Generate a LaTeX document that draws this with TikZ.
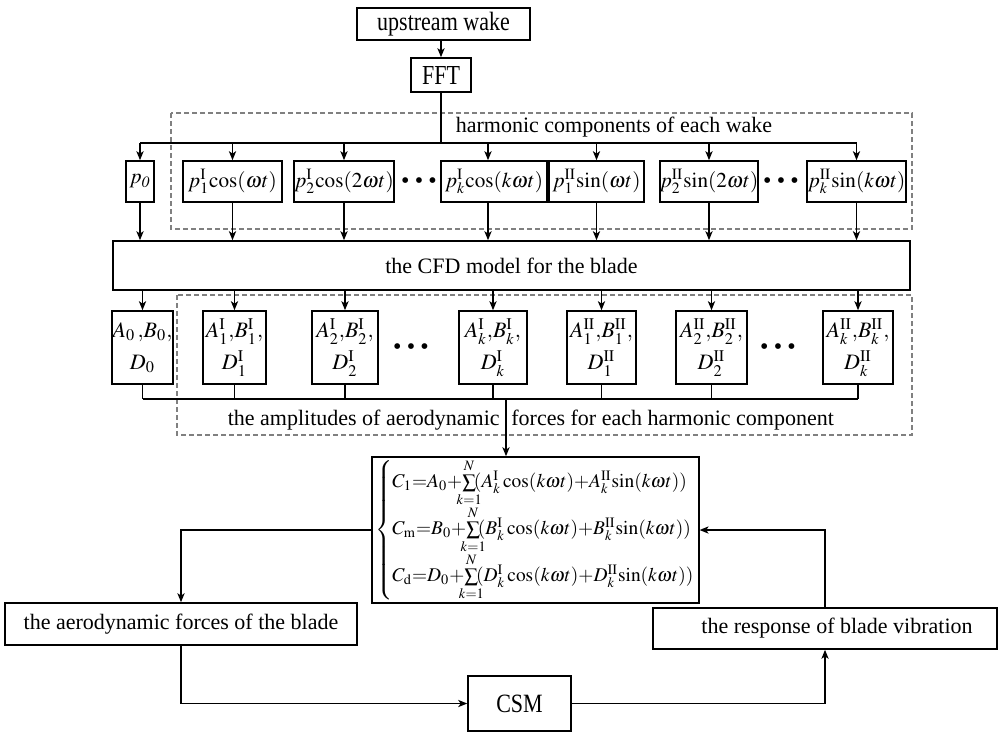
\documentclass[tikz,border=0pt]{standalone}
\usepackage{mathptmx}
\usepackage{mathtools}
\usepackage[no-math]{fontspec}
\setmainfont{Liberation Serif}
\usepackage{graphicx}
\usetikzlibrary{arrows.meta,calc}
\definecolor{dashgray}{RGB}{128,128,128}
\newcommand{\mysum}{\!\sum\limits_{\mathclap{k=1}}^{N}\!}
\newcommand{\threedots}{\textbullet\hspace{2.6pt}\textbullet\hspace{2.6pt}\textbullet}
\begin{document}
\begin{tikzpicture}[x=0.5pt,y=-0.5pt,
  box/.style={draw, line width=0.8pt, inner sep=0pt, align=center, font=\fontsize{11}{13}\selectfont},
  rowone/.style={box, font=\fontsize{10.6}{13}\selectfont, minimum height=20.5pt},
  twoline/.style={box, font=\fontsize{11}{16}\selectfont},
  dashbox/.style={draw=dashgray, dash pattern=on 2.5pt off 1.5pt, line width=0.8pt},
  arr/.style={-{Stealth[length=4.5pt,width=3.6pt,inset=1.2pt]}, line width=0.7pt},
  ln/.style={line width=0.7pt},
  lbl/.style={font=\fontsize{11}{13}\selectfont, inner sep=0pt},
  dotsnode/.style={font=\fontsize{12}{13}\selectfont, inner sep=0pt}]
\useasboundingbox (0,0) rectangle (1004,736);

% dashed groups
\draw[dashbox] (171,113) rectangle (912,229);
\draw[dashbox] (177,295) rectangle (912,435);

% top
\node[box, minimum width=86.5pt, minimum height=16pt] (up) at (443.5,24) {\scalebox{1}[1.2]{upstream wake}};
\node[box, minimum width=30pt, minimum height=17pt] (fft) at (441,75) {\scalebox{1}[1.25]{FFT}};
\node[lbl] (hlab) at (614,127) {harmonic components of each wake};

% row 1
\node[rowone, minimum width=14pt] (p0) at (140,181.5) {$p_{\mathit{0}}$};
\node[rowone, minimum width=49.5pt] (c1) at (232.5,181.5) {$p_1^{\mathrm{I}}\mathrm{cos}(\omega t)$};
\node[rowone, minimum width=50pt] (c2) at (344,181.5) {$p_2^{\mathrm{I}}\mathrm{cos}(2\omega t)$};
\node[dotsnode] (d1) at (419,183) {\threedots};
\node[rowone, minimum width=53pt] (ck) at (494,181.5) {$p_k^{\mathrm{I}}\mathrm{cos}(k\omega t)$};
\node[rowone, minimum width=47.5pt] (s1) at (596.5,181.5) {$p_1^{\mathrm{II}}\mathrm{sin}(\omega t)$};
\node[rowone, minimum width=48pt] (s2) at (709,181.5) {$p_2^{\mathrm{II}}\mathrm{sin}(2\omega t)$};
\node[dotsnode] (d2) at (781,183) {\threedots};
\node[rowone, minimum width=49.5pt] (sk) at (856.5,181.5) {$p_k^{\mathrm{II}}\mathrm{sin}(k\omega t)$};

% CFD
\node[box, minimum width=398.5pt, minimum height=24.5pt] (cfd) at (511.5,265.5) {the CFD model for the blade};

% row 2
\node[twoline, minimum width=30.5pt, minimum height=36.5pt] (a0) at (142.5,347.5) {$A_0\,{,}B_0{,}$\\$D_0$};
\node[twoline, minimum width=31.5pt, minimum height=36.5pt] (a1) at (234.5,347.5) {$A_1^{\mathrm{I}}{,}B_1^{\mathrm{I}}{,}$\\$D_1^{\mathrm{I}}$};
\node[twoline, minimum width=33pt, minimum height=36.5pt] (a2) at (345,347.5) {$A_2^{\mathrm{I}}{,}B_2^{\mathrm{I}}{,}$\\$D_2^{\mathrm{I}}$};
\node[dotsnode] (d3) at (411,349) {\threedots};
\node[twoline, minimum width=34pt, minimum height=36.5pt] (ak) at (493,347.5) {$A_k^{\mathrm{I}}{,}B_k^{\mathrm{I}}{,}$\\$D_k^{\mathrm{I}}$};
\node[twoline, minimum width=34.5pt, minimum height=36.5pt] (b1) at (601.5,347.5) {$A_1^{\mathrm{II}}{,}B_1^{\mathrm{II}}{,}$\\$D_1^{\mathrm{II}}$};
\node[twoline, minimum width=35.5pt, minimum height=36.5pt] (b2) at (711.5,347.5) {$A_2^{\mathrm{II}}{,}B_2^{\mathrm{II}}{,}$\\$D_2^{\mathrm{II}}$};
\node[dotsnode] (d4) at (778,349) {\threedots};
\node[twoline, minimum width=35pt, minimum height=36.5pt] (bk) at (858,347.5) {$A_k^{\mathrm{II}}{,}B_k^{\mathrm{II}}{,}$\\$D_k^{\mathrm{II}}$};

\node[lbl, anchor=east] (alab1) at (500,420) {the amplitudes of aerodynamic};
\node[lbl, anchor=west] (alab2) at (511,420) {forces for each harmonic component};

% equation box
\node[box, minimum width=158.5pt, minimum height=73pt, inner xsep=1.5pt, font=\fontsize{9.7}{12}\selectfont] (eq) at (535.5,530) {$\left\{\begin{array}{@{}l@{}}
C_{1}{=}A_0{+}\mysum(A_k^{\mathrm{I}}\cos(k\omega t){+}A_k^{\mathrm{II}}\mathrm{sin}(k\omega t))\\[1.5pt]
C_{\mathrm{m}}{=}B_0{+}\mysum(B_k^{\mathrm{I}}\cos(k\omega t){+}B_k^{\mathrm{II}}\mathrm{sin}(k\omega t))\\[1.5pt]
C_{\mathrm{d}}{=}D_0{+}\mysum(D_k^{\mathrm{I}}\cos(k\omega t){+}D_k^{\mathrm{II}}\mathrm{sin}(k\omega t))
\end{array}\right.$};

% bottom
\node[box, minimum width=176pt, minimum height=21pt] (aero) at (181,624) {the aerodynamic forces of the blade};
\node[box, minimum width=172pt, minimum height=20.5pt] (resp) at (825,628.5) {\hspace*{12pt}the response of blade vibration};
\node[box, minimum width=51.5pt, minimum height=27.5pt] (csm) at (519.5,703.5) {\scalebox{1}[1.2]{CSM}};

% connectors top
\coordinate (brL) at (140,143);
\coordinate (brR) at (857,143);
\draw[arr] (up.south -| fft.north) -- (fft.north);
\draw[ln] (fft.south) -- (fft.south |- brL);
\draw[ln] (brL) -- (brR);
\foreach \n in {p0,c1,c2,s1,s2,sk}{
  \draw[arr] (\n.north |- brL) -- (\n.north);
  \draw[arr] (\n.south) -- (\n.south |- cfd.north);
}
\draw[arr] ([xshift=-3pt]ck.north |- brL) -- ([xshift=-3pt]ck.north);
\draw[arr] ([xshift=-3pt]ck.south) -- ([xshift=-3pt]ck.south |- cfd.north);

% connectors row 2
\coordinate (colL) at (140,399);
\foreach \n in {a0,a1,a2,ak,b1,b2,bk}{
  \draw[arr] (\n.north |- cfd.south) -- (\n.north);
  \draw[ln] (\n.south) -- (\n.south |- colL);
}
\draw[ln] (a0.south |- colL) -- (bk.south |- colL);
\coordinate (tap) at (506,399);
\draw[arr] (tap) -- (tap |- eq.north);

% bottom loop
\draw[arr] (eq.west) -- (eq.west -| aero.north) -- (aero.north);
\draw[arr] (aero.south) -- (aero.south |- csm.west) -- (csm.west);
\draw[arr] (csm.east) -- (csm.east -| resp.south) -- (resp.south);
\draw[arr] (resp.north) -- (resp.north |- eq.east) -- (eq.east);
\end{tikzpicture}
\end{document}
